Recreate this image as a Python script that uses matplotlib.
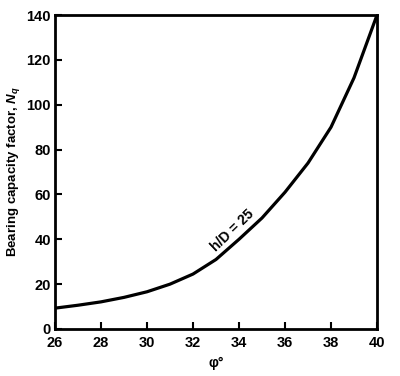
import numpy as np
import matplotlib.pyplot as plt

# friction angle (deg) and bearing capacity factor
phi = [26, 27, 28, 29, 30, 31, 32, 33, 34, 35, 36, 37, 38, 39, 40]
nq = [9.3, 10.6, 12.1, 14.1, 16.6, 20.0, 24.5, 31.0, 40.0, 49.5, 61.0, 74.0, 90.0, 112.0, 140.0]

xticks = [26, 28, 30, 32, 34, 36, 38, 40]
yticks = [0, 20, 40, 60, 80, 100, 120, 140]

plt.rcParams['font.family'] = ['Liberation Sans', 'DejaVu Sans']
plt.rcParams['mathtext.fontset'] = 'custom'
plt.rcParams['mathtext.it'] = 'Liberation Sans:italic:bold'
plt.rcParams['mathtext.rm'] = 'Liberation Sans:bold'

fig = plt.figure(figsize=(4.0, 3.76), dpi=100)
ax = fig.add_axes([0.1375, 0.125, 0.805, 0.835])

ax.plot(phi, nq, color='black', lw=2.3, solid_capstyle='round')

ax.set_xlim(26, 40)
ax.set_ylim(0, 140)
ax.set_xticks(xticks)
ax.set_yticks(yticks)
ax.tick_params(direction='in', length=5, width=1.5, labelsize=10.5)
ax.tick_params(axis='x', pad=5)
ax.tick_params(axis='y', pad=3)
for lab in ax.get_xticklabels() + ax.get_yticklabels():
    lab.set_fontweight('bold')
for s in ax.spines.values():
    s.set_linewidth(2)

ax.text(33.7, 44, 'h/D = 25', rotation=44, ha='center', va='center',
        fontsize=10, fontweight='bold')

ax.set_xlabel('\u03c6\u00b0', fontsize=10, fontweight='bold', labelpad=4)
ax.set_ylabel('Bearing capacity factor, $N_q$', fontsize=9.5,
              fontweight='bold', labelpad=3)

fig.savefig('out.png', dpi=100)
